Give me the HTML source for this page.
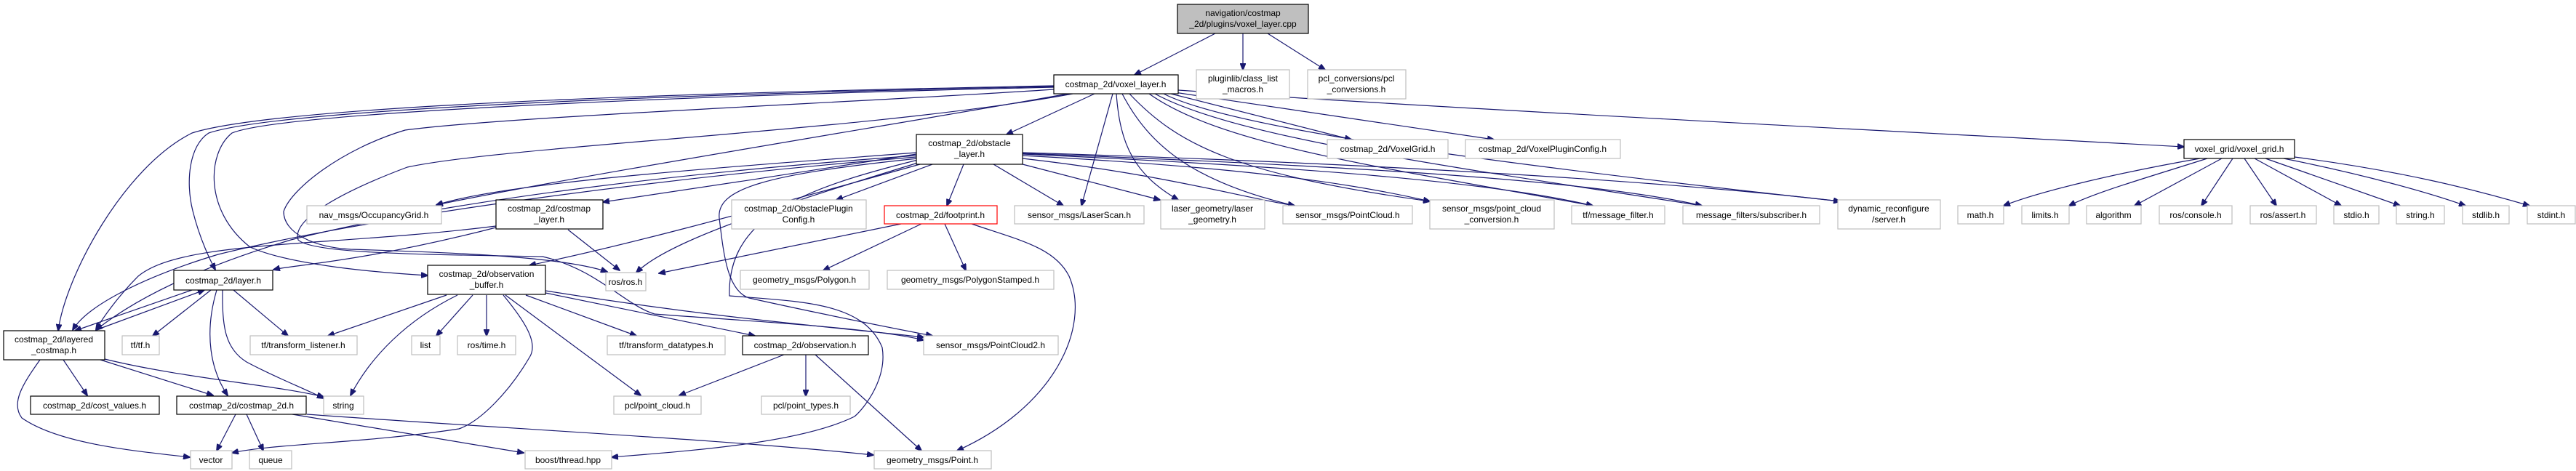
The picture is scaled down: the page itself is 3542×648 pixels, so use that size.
<!DOCTYPE html>
<html><head><meta charset="utf-8"><style>
html,body{margin:0;padding:0;background:#fff}
svg{display:block}
.e{fill:none;stroke:#191970;stroke-width:1.2}
.n{fill:#fff;stroke:#bfbfbf;stroke-width:1.2}
.d{fill:#fff;stroke:#000;stroke-width:1.2}
text{font-family:"Liberation Sans Narrow","Liberation Sans",sans-serif;font-size:12px;fill:#000;text-anchor:middle}
</style></head><body>
<svg width="3542" height="648" viewBox="0 0 3542 648" xmlns="http://www.w3.org/2000/svg">
<defs><marker id="a" markerWidth="10" markerHeight="8" refX="9" refY="4" orient="auto" markerUnits="userSpaceOnUse"><path d="M0,0 L10,4 L0,8z" fill="#191970" stroke="#191970"/></marker></defs>
<g class="e" marker-end="url(#a)">
<path d="M1671,46 L1560,103"/>
<path d="M1709,46 L1709,96"/>
<path d="M1743,46 L1822,96"/>
<!-- voxel_layer left -->
<path d="M1449,118 C1100,125 400,140 264,183 C170,230 90,380 80,455"/>
<path d="M1449,119 C1100,126 400,145 287,183 C260,200 255,250 265,290 C275,330 290,360 296,371"/>
<path d="M1449,120 C1100,128 400,150 319,183 C285,210 280,290 344,340 C400,365 520,375 588,379"/>
<path d="M1449,123 C1200,140 700,160 557,179 C470,205 400,260 390,291 C390,320 430,340 482,343 C650,348 780,355 835,374"/>
<path d="M1468,129 C1300,160 800,240 600,282"/>
<path d="M1475,129 C1200,180 700,200 560,230 C480,260 400,300 410,330 C430,350 600,350 746,353 C820,370 860,420 900,432 C1000,440 1200,450 1270,468"/>
<path d="M1505,129 L1384,185"/>
<path d="M1530,129 L1487,283"/>
<path d="M1535,129 C1540,200 1560,240 1620,275"/>
<path d="M1543,129 C1580,200 1640,250 1780,283"/>
<path d="M1553,129 C1620,200 1700,240 1966,277"/>
<path d="M1580,129 C1680,200 1900,230 2190,283"/>
<path d="M1588,129 C1700,190 2000,230 2340,283"/>
<path d="M1600,129 C1700,180 2100,230 2530,277"/>
<path d="M1610,129 L1858,192"/>
<path d="M1615,127 L2054,192"/>
<path d="M1620,124 C2000,150 2600,180 3003,202"/>
<!-- obstacle -->
<path d="M1260,212 C1150,230 950,260 829,278"/>
<path d="M1260,210 C1000,230 700,250 600,282"/>
<path d="M1260,214 C900,240 600,280 400,330 C300,360 200,400 132,454"/>
<path d="M1260,216 C900,245 500,300 300,350 C200,380 120,420 100,454"/>
<path d="M1265,226 C1000,300 850,340 728,365"/>
<path d="M1262,224 C1080,280 920,330 875,375"/>
<path d="M1282,226 L1150,275"/>
<path d="M1325,226 L1302,283"/>
<path d="M1366,226 L1462,283"/>
<path d="M1406,226 L1595,275"/>
<path d="M1406,218 C1600,240 1700,270 1780,283"/>
<path d="M1406,214 C1700,230 1850,250 1966,277"/>
<path d="M1406,212 C1800,230 2050,250 2190,283"/>
<path d="M1406,211 C1900,230 2200,250 2340,283"/>
<path d="M1406,210 C1900,225 2300,250 2530,277"/>
<path d="M1262,218 C1050,240 985,260 989,300 C995,350 1000,400 1030,410 C1120,430 1220,450 1282,462"/>
<path d="M1262,220 C1100,260 1000,300 1003,407 C1100,415 1187,415 1213,478 C1220,520 1190,560 1175,573 C1100,610 950,620 841,629"/>
<!-- costmap_layer -->
<path d="M682,313 C500,360 400,365 376,371"/>
<path d="M682,311 C450,340 250,330 190,380 C160,410 140,440 132,453"/>
<path d="M781,316 L852,372"/>
<!-- footprint -->
<path d="M1239,308 L906,376"/>
<path d="M1267,308 L1132,372"/>
<path d="M1299,308 L1328,372"/>
<path d="M1336,308 C1400,330 1450,340 1470,380 C1500,450 1450,560 1316,620"/>
<!-- observation_buffer -->
<path d="M614,406 L451,462"/>
<path d="M629,406 C560,440 510,490 482,544"/>
<path d="M650,406 L600,462"/>
<path d="M669,406 L669,462"/>
<path d="M692,406 C720,440 740,470 729,490 C700,540 660,580 631,590 C500,610 380,610 319,623"/>
<path d="M695,406 L881,544"/>
<path d="M723,406 L875,462"/>
<path d="M750,403 L1038,462"/>
<path d="M750,400 C1000,440 1150,450 1270,464"/>
<!-- observation.h -->
<path d="M1078,488 L934,544"/>
<path d="M1108,488 L1108,545"/>
<path d="M1121,488 L1267,620"/>
<!-- layer.h -->
<path d="M264,399 L103,455"/>
<path d="M132,454 L281,399"/>
<path d="M290,399 L210,462"/>
<path d="M321,399 L396,462"/>
<path d="M298,399 C280,460 290,510 313,544"/>
<path d="M306,399 C305,450 310,480 339,498 C380,520 420,535 445,548"/>
<!-- layered -->
<path d="M87,495 L120,544"/>
<path d="M138,495 L293,544"/>
<path d="M144,494 C250,520 380,530 445,546"/>
<path d="M55,495 C30,530 15,555 30,575 C80,610 180,620 261,629"/>
<!-- costmap_2d.h -->
<path d="M324,570 L298,620"/>
<path d="M339,570 L362,620"/>
<path d="M402,570 L720,623"/>
<path d="M422,570 C700,590 1000,605 1201,626"/>
<!-- voxel_grid -->
<path d="M3025,218 C2900,240 2800,265 2755,283"/>
<path d="M3035,218 C2950,245 2880,265 2845,283"/>
<path d="M3055,218 L2935,283"/>
<path d="M3070,218 L3027,283"/>
<path d="M3086,218 L3130,283"/>
<path d="M3100,218 L3219,283"/>
<path d="M3115,218 L3300,283"/>
<path d="M3140,218 C3250,240 3340,265 3390,283"/>
<path d="M3155,216 C3300,235 3400,260 3478,283"/>
</g>
<g>
<rect x="1619" y="6" width="180" height="40" fill="#bfbfbf" stroke="#000" stroke-width="1.2"/>
<text x="1709" y="22">navigation/costmap</text><text x="1709" y="37">_2d/plugins/voxel_layer.cpp</text>
<rect class="d" x="1449" y="103" width="171" height="26"/><text x="1534" y="120">costmap_2d/voxel_layer.h</text>
<rect class="n" x="1645" y="96" width="128" height="40"/><text x="1709" y="112">pluginlib/class_list</text><text x="1709" y="127">_macros.h</text>
<rect class="n" x="1798" y="96" width="135" height="40"/><text x="1865" y="112">pcl_conversions/pcl</text><text x="1865" y="127">_conversions.h</text>
<rect class="d" x="1260" y="185" width="146" height="41"/><text x="1333" y="201">costmap_2d/obstacle</text><text x="1333" y="216">_layer.h</text>
<rect class="n" x="1825" y="192" width="166" height="26"/><text x="1908" y="209">costmap_2d/VoxelGrid.h</text>
<rect class="n" x="2015" y="192" width="213" height="26"/><text x="2121" y="209">costmap_2d/VoxelPluginConfig.h</text>
<rect class="d" x="3003" y="192" width="152" height="26"/><text x="3079" y="209">voxel_grid/voxel_grid.h</text>
<rect class="n" x="422" y="283" width="185" height="25"/><text x="514" y="300">nav_msgs/OccupancyGrid.h</text>
<rect class="d" x="682" y="275" width="147" height="40"/><text x="755" y="291">costmap_2d/costmap</text><text x="755" y="306">_layer.h</text>
<rect class="n" x="1006" y="275" width="185" height="40"/><text x="1098" y="291">costmap_2d/ObstaclePlugin</text><text x="1098" y="306">Config.h</text>
<rect x="1216" y="283" width="155" height="25" fill="#fff" stroke="#ff0000" stroke-width="1.2"/><text x="1293" y="300">costmap_2d/footprint.h</text>
<rect class="n" x="1395" y="283" width="178" height="25"/><text x="1484" y="300">sensor_msgs/LaserScan.h</text>
<rect class="n" x="1596" y="275" width="143" height="40"/><text x="1667" y="291">laser_geometry/laser</text><text x="1667" y="306">_geometry.h</text>
<rect class="n" x="1764" y="283" width="178" height="25"/><text x="1853" y="300">sensor_msgs/PointCloud.h</text>
<rect class="n" x="1966" y="275" width="171" height="40"/><text x="2051" y="291">sensor_msgs/point_cloud</text><text x="2051" y="306">_conversion.h</text>
<rect class="n" x="2161" y="283" width="128" height="25"/><text x="2225" y="300">tf/message_filter.h</text>
<rect class="n" x="2314" y="283" width="188" height="25"/><text x="2408" y="300">message_filters/subscriber.h</text>
<rect class="n" x="2527" y="275" width="141" height="40"/><text x="2597" y="291">dynamic_reconfigure</text><text x="2597" y="306">/server.h</text>
<rect class="n" x="2692" y="283" width="63" height="25"/><text x="2723" y="300">math.h</text>
<rect class="n" x="2780" y="283" width="65" height="25"/><text x="2812" y="300">limits.h</text>
<rect class="n" x="2869" y="283" width="75" height="25"/><text x="2906" y="300">algorithm</text>
<rect class="n" x="2969" y="283" width="100" height="25"/><text x="3019" y="300">ros/console.h</text>
<rect class="n" x="3094" y="283" width="91" height="25"/><text x="3139" y="300">ros/assert.h</text>
<rect class="n" x="3209" y="283" width="62" height="25"/><text x="3240" y="300">stdio.h</text>
<rect class="n" x="3295" y="283" width="66" height="25"/><text x="3328" y="300">string.h</text>
<rect class="n" x="3386" y="283" width="64" height="25"/><text x="3418" y="300">stdlib.h</text>
<rect class="n" x="3475" y="283" width="66" height="25"/><text x="3508" y="300">stdint.h</text>
<rect class="d" x="239" y="372" width="136" height="27"/><text x="307" y="390">costmap_2d/layer.h</text>
<rect class="d" x="588" y="365" width="162" height="40"/><text x="669" y="381">costmap_2d/observation</text><text x="669" y="396">_buffer.h</text>
<rect class="n" x="833" y="375" width="55" height="25"/><text x="860" y="392">ros/ros.h</text>
<rect class="n" x="1018" y="372" width="177" height="26"/><text x="1106" y="389">geometry_msgs/Polygon.h</text>
<rect class="n" x="1220" y="372" width="229" height="26"/><text x="1334" y="389">geometry_msgs/PolygonStamped.h</text>
<rect class="d" x="5" y="455" width="139" height="40"/><text x="74" y="471">costmap_2d/layered</text><text x="74" y="486">_costmap.h</text>
<rect class="n" x="168" y="462" width="51" height="26"/><text x="193" y="479">tf/tf.h</text>
<rect class="n" x="344" y="462" width="147" height="26"/><text x="417" y="479">tf/transform_listener.h</text>
<rect class="n" x="566" y="462" width="39" height="26"/><text x="585" y="479">list</text>
<rect class="n" x="629" y="462" width="80" height="26"/><text x="669" y="479">ros/time.h</text>
<rect class="n" x="835" y="462" width="162" height="26"/><text x="916" y="479">tf/transform_datatypes.h</text>
<rect class="d" x="1021" y="462" width="173" height="26"/><text x="1107" y="479">costmap_2d/observation.h</text>
<rect class="n" x="1270" y="462" width="185" height="26"/><text x="1362" y="479">sensor_msgs/PointCloud2.h</text>
<rect class="d" x="42" y="545" width="177" height="25"/><text x="130" y="562">costmap_2d/cost_values.h</text>
<rect class="d" x="243" y="545" width="178" height="25"/><text x="332" y="562">costmap_2d/costmap_2d.h</text>
<rect class="n" x="445" y="545" width="55" height="25"/><text x="472" y="562">string</text>
<rect class="n" x="844" y="545" width="120" height="25"/><text x="904" y="562">pcl/point_cloud.h</text>
<rect class="n" x="1047" y="545" width="122" height="25"/><text x="1108" y="562">pcl/point_types.h</text>
<rect class="n" x="262" y="620" width="57" height="25"/><text x="290" y="637">vector</text>
<rect class="n" x="343" y="620" width="58" height="25"/><text x="372" y="637">queue</text>
<rect class="n" x="722" y="620" width="119" height="25"/><text x="781" y="637">boost/thread.hpp</text>
<rect class="n" x="1202" y="620" width="161" height="25"/><text x="1282" y="637">geometry_msgs/Point.h</text>
</g>
</svg>
</body></html>
